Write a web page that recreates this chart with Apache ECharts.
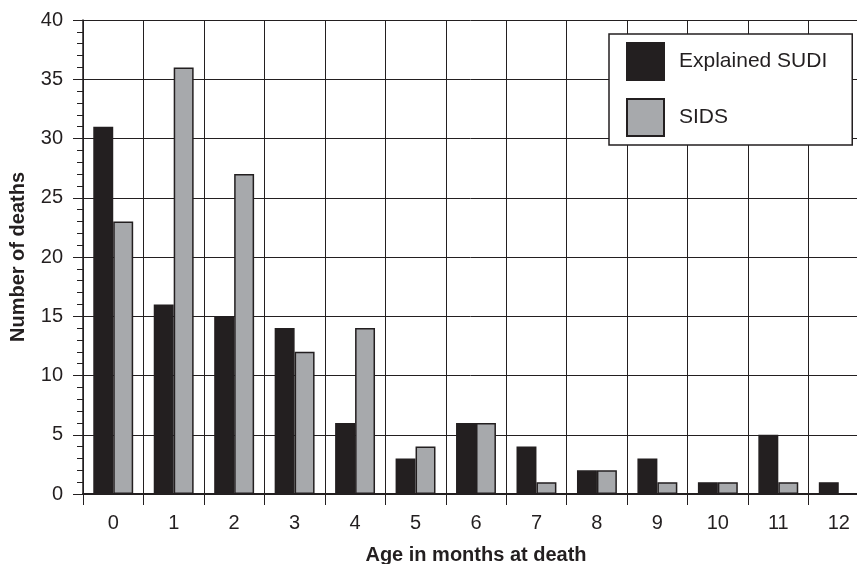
<!DOCTYPE html>
<html>
<head>
<meta charset="utf-8">
<script src="https://cdn.jsdelivr.net/npm/echarts@6/dist/echarts.min.js"></script>
<style>html,body{margin:0;padding:0;background:#fff}#c{width:857px;height:564px}</style>
</head>
<body>
<div id="c"></div>
<script>
const categories = ['0','1','2','3','4','5','6','7','8','9','10','11','12'];
const explainedSUDI = [31,16,15,14,6,3,6,4,2,3,1,5,1];
const sids = [23,36,27,12,14,4,6,1,2,1,1,1,0];
const yTicks = {min:0, max:40, interval:5};

const ink = '#231f20';
const font = '"Liberation Sans", Arial, sans-serif';
const chart = echarts.init(document.getElementById('c'), null, {renderer:'canvas'});
chart.setOption({
  animation:false,
  backgroundColor:'#fff',
  grid:{left:83, top:20, right:-12, bottom:70, containLabel:false, outerBoundsMode:'none'},
  legend:{
    orient:'vertical', left:609, top:34,
    itemWidth:37, itemHeight:37, itemGap:17,
    padding:[8,25,8,17],
    backgroundColor:'#fff', borderColor:ink, borderWidth:1.5,
    icon:'rect',
    textStyle:{fontFamily:font, fontSize:21, color:ink, padding:[0,0,0,10]},
    data:['Explained SUDI','SIDS']
  },
  xAxis:{
    type:'category', data:categories,
    name:'Age in months at death', nameLocation:'middle', nameGap:51,
    nameTextStyle:{fontFamily:font, fontSize:20, fontWeight:'bold', color:ink},
    axisLine:{show:true, lineStyle:{color:ink, width:2}},
    axisTick:{show:true, length:11, lineStyle:{color:ink, width:1}},
    axisLabel:{fontFamily:font, fontSize:20, color:ink, margin:19},
    splitLine:{show:true, lineStyle:{color:ink, width:1}}
  },
  yAxis:{
    type:'value', min:yTicks.min, max:yTicks.max, interval:yTicks.interval,
    name:'Number of deaths', nameLocation:'middle', nameGap:55, nameRotate:90,
    nameTextStyle:{fontFamily:font, fontSize:20, fontWeight:'bold', color:ink},
    axisLine:{show:true, lineStyle:{color:ink, width:1.5}},
    axisTick:{show:true, length:10, lineStyle:{color:ink, width:1}},
    minorTick:{show:true, splitNumber:5, length:6, lineStyle:{color:ink, width:1}},
    axisLabel:{fontFamily:font, fontSize:20, color:ink, margin:20},
    splitLine:{show:true, lineStyle:{color:ink, width:1}}
  },
  series:[
    {name:'Explained SUDI', type:'bar', data:explainedSUDI, barGap:'0%', barCategoryGap:'34%',
     itemStyle:{color:ink, borderColor:ink, borderWidth:1.5}},
    {name:'SIDS', type:'bar', data:sids, barGap:'0%', barCategoryGap:'34%',
     itemStyle:{color:'#a7a9ac', borderColor:ink, borderWidth:1.5}}
  ]
});
</script>
</body>
</html>
